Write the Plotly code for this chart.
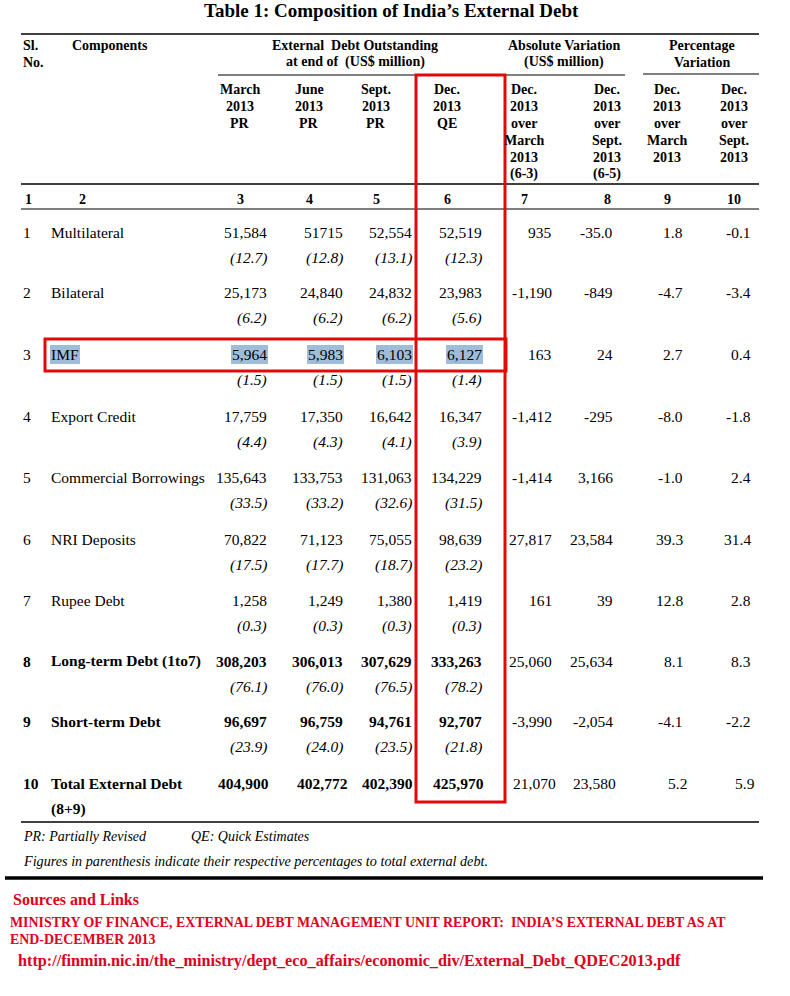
import plotly.graph_objects as go

# ---------------- data ----------------
title = "Table 1: Composition of India’s External Debt"
group_headers = ["Sl.<br>No.", "Components", "External  Debt Outstanding<br>at end of  (US$ million)",
                 "Absolute Variation<br>(US$ million)", "Percentage<br>Variation"]
col_headers = ["March<br>2013<br>PR", "June<br>2013<br>PR", "Sept.<br>2013<br>PR", "Dec.<br>2013<br>QE",
               "Dec.<br>2013<br>over<br>March<br>2013<br>(6-3)", "Dec.<br>2013<br>over<br>Sept.<br>2013<br>(6-5)",
               "Dec.<br>2013<br>over<br>March<br>2013", "Dec.<br>2013<br>over<br>Sept.<br>2013"]
col_numbers = ["1", "2", "3", "4", "5", "6", "7", "8", "9", "10"]

sl_no = ["1", "2", "3", "4", "5", "6", "7", "8", "9", "10"]
components = ["Multilateral", "Bilateral", "IMF", "Export Credit", "Commercial Borrowings",
              "NRI Deposits", "Rupee Debt", "Long-term Debt (1to7)", "Short-term Debt",
              "Total External Debt<br>(8+9)"]
mar2013 = ["51,584", "25,173", "5,964", "17,759", "135,643", "70,822", "1,258", "308,203", "96,697", "404,900"]
jun2013 = ["51715", "24,840", "5,983", "17,350", "133,753", "71,123", "1,249", "306,013", "96,759", "402,772"]
sep2013 = ["52,554", "24,832", "6,103", "16,642", "131,063", "75,055", "1,380", "307,629", "94,761", "402,390"]
dec2013 = ["52,519", "23,983", "6,127", "16,347", "134,229", "98,639", "1,419", "333,263", "92,707", "425,970"]
abs_var_mar = ["935", "-1,190", "163", "-1,412", "-1,414", "27,817", "161", "25,060", "-3,990", "21,070"]
abs_var_sep = ["-35.0", "-849", "24", "-295", "3,166", "23,584", "39", "25,634", "-2,054", "23,580"]
pct_var_mar = ["1.8", "-4.7", "2.7", "-8.0", "-1.0", "39.3", "12.8", "8.1", "-4.1", "5.2"]
pct_var_sep = ["-0.1", "-3.4", "0.4", "-1.8", "2.4", "31.4", "2.8", "8.3", "-2.2", "5.9"]
share_mar = ["(12.7)", "(6.2)", "(1.5)", "(4.4)", "(33.5)", "(17.5)", "(0.3)", "(76.1)", "(23.9)", ""]
share_jun = ["(12.8)", "(6.2)", "(1.5)", "(4.3)", "(33.2)", "(17.7)", "(0.3)", "(76.0)", "(24.0)", ""]
share_sep = ["(13.1)", "(6.2)", "(1.5)", "(4.1)", "(32.6)", "(18.7)", "(0.3)", "(76.5)", "(23.5)", ""]
share_dec = ["(12.3)", "(5.6)", "(1.4)", "(3.9)", "(31.5)", "(23.2)", "(0.3)", "(78.2)", "(21.8)", ""]
bold_rows = [7, 8, 9]
highlight_row = 2

footnote1 = ["PR: Partially Revised", "QE: Quick Estimates"]
footnote2 = "Figures in parenthesis indicate their respective percentages to total external debt."
src_head = "Sources and Links"
src_lines = ["MINISTRY OF FINANCE, EXTERNAL DEBT MANAGEMENT UNIT REPORT:  INDIA’S EXTERNAL DEBT AS AT",
             "END-DECEMBER 2013"]
src_url = "http://finmin.nic.in/the_ministry/dept_eco_affairs/economic_div/External_Debt_QDEC2013.pdf"

# ---------------- layout constants ----------------
W, H = 790, 996
SERIF = "Liberation Serif, Times New Roman, serif"
RED = "#e10a0a"
RED_TXT = "#e0001b"
HL = "#9fbcd8"
BODY = 15.5
HEAD = 14

L, R = 21, 759
header_cx = [240, 309, 376, 447, 524, 607, 667, 734]
value_rx = [267, 343, 412, 482, 552, 613, 683, 751]
last_row_shift = [2, 5, 1, 2, 4, 3, 4, 4]
colnum_x = [24, 82] + header_cx
row_y = [232, 292, 354, 416, 477, 539, 600, 661, 721, 783]
pct_dy = 26

fig = go.Figure()
fig.update_layout(
    width=W, height=H, margin=dict(l=0, r=0, t=0, b=0),
    paper_bgcolor="white", plot_bgcolor="white", showlegend=False,
    xaxis=dict(range=[0, W], visible=False, fixedrange=True),
    yaxis=dict(range=[H, 0], visible=False, fixedrange=True),
)


def txt(x, y, s, size=BODY, bold=False, italic=False, anchor="left", color="black", bg=None, family=SERIF):
    if bold:
        s = f"<b>{s}</b>"
    if italic:
        s = f"<i>{s}</i>"
    fig.add_annotation(x=x, y=y, xref="x", yref="y", text=s, showarrow=False,
                       xanchor=anchor, yanchor="middle", align=anchor if anchor != "middle" else "center",
                       font=dict(family=family, size=size, color=color),
                       bgcolor=bg, borderpad=1, borderwidth=0)


def multiline(x, y0, s, dy, **kw):
    for i, part in enumerate(s.split("<br>")):
        txt(x, y0 + i * dy, part, **kw)


def hline(y, x0, x1, w=1.2, color="black"):
    fig.add_shape(type="line", xref="x", yref="y", x0=x0, x1=x1, y0=y, y1=y,
                  line=dict(color=color, width=w))


# title
txt(391, 10, title, size=19, bold=True, anchor="center")

# rules
hline(34, L, R, 1.3)
hline(75, 218, 625, 1.1)
hline(74, 643, R, 1.1)
hline(184, L, R, 1.3)
hline(209, L, R, 1.1)
hline(822, L, R, 1.3)
hline(878, 5, 763, 3.5)

# group headers
multiline(L + 1, 45, group_headers[0], 17, size=HEAD, bold=True)
txt(71, 45, group_headers[1], size=HEAD, bold=True)
multiline(355, 45, group_headers[2], 17, size=HEAD, bold=True, anchor="center")
multiline(564, 45, group_headers[3], 17, size=HEAD, bold=True, anchor="center")
multiline(702, 45, group_headers[4], 17, size=HEAD, bold=True, anchor="center")

# column headers
for cx, h in zip(header_cx, col_headers):
    multiline(cx, 89, h, 17, size=HEAD, bold=True, anchor="center")

# column numbers
for i, (cx, n) in enumerate(zip(colnum_x, col_numbers)):
    txt(cx, 199, n, size=HEAD, bold=True, anchor="left" if i == 0 else "center")

# body rows
n_rows = len(components)
for r in range(n_rows):
    y = row_y[r]
    b = r in bold_rows
    shift = last_row_shift if r == n_rows - 1 else [0] * 8
    txt(L + 1, y, sl_no[r], bold=b)
    label_parts = components[r].split("<br>")
    txt(50, y, label_parts[0], bold=b, bg=HL if r == highlight_row else None)
    for k, extra in enumerate(label_parts[1:]):
        txt(50, y + pct_dy * (k + 1), extra, bold=b)
    vals = [mar2013[r], jun2013[r], sep2013[r], dec2013[r]]
    for c, v in enumerate(vals):
        txt(value_rx[c] + 1 + shift[c], y, v, bold=b, anchor="right", bg=HL if r == highlight_row else None)
    for c, v in enumerate([abs_var_mar[r], abs_var_sep[r], pct_var_mar[r], pct_var_sep[r]]):
        txt(value_rx[c + 4] + 1 + shift[c + 4], y, v, anchor="right")
    for c, v in enumerate([share_mar[r], share_jun[r], share_sep[r], share_dec[r]]):
        if v:
            txt(value_rx[c] + 1, y + pct_dy, v, italic=True, anchor="right")

# red boxes
fig.add_shape(type="rect", xref="x", yref="y", x0=416, x1=505, y0=75, y1=802,
              line=dict(color=RED, width=3), fillcolor="rgba(0,0,0,0)")
fig.add_shape(type="rect", xref="x", yref="y", x0=45, x1=506, y0=339, y1=371,
              line=dict(color=RED, width=3), fillcolor="rgba(0,0,0,0)")

# footnotes
txt(L + 1, 836, footnote1[0], size=14, italic=True)
txt(190, 836, footnote1[1], size=14, italic=True)
txt(L + 1, 861, footnote2, size=14.2, italic=True)

# sources
txt(12, 899, src_head, size=16, bold=True, color=RED_TXT)
txt(9, 922, src_lines[0], size=13.9, bold=True, color=RED_TXT)
txt(9, 939, src_lines[1], size=13.9, bold=True, color=RED_TXT)
txt(17, 961, src_url, size=16.2, bold=True, color=RED_TXT)

fig.write_html("out.html", config={"displayModeBar": False},
               post_script="document.body.style.margin='0px';")
